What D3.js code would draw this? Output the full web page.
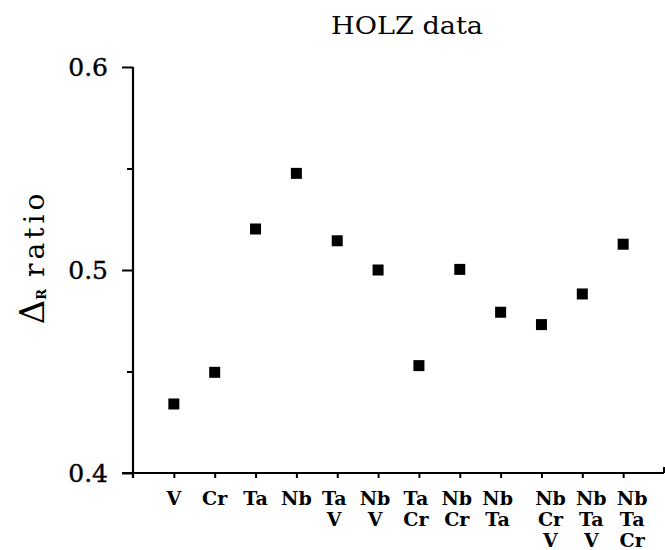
<!DOCTYPE html>
<html><head><meta charset="utf-8">
<script src="https://cdn.jsdelivr.net/npm/d3@7"></script>
<style>body{margin:0;background:#fff}</style>
</head><body>
<script>
const categories = [["V"],["Cr"],["Ta"],["Nb"],["Ta","V"],["Nb","V"],["Ta","Cr"],["Nb","Cr"],["Nb","Ta"],["Nb","Cr","V"],["Nb","Ta","V"],["Nb","Ta","Cr"]];
const ratios = [0.434, 0.4496, 0.5202, 0.5476, 0.5144, 0.500, 0.4529, 0.5003, 0.4792, 0.4731, 0.4882, 0.5127];
const majorTicks = [0.4, 0.5, 0.6];
const minorTicks = [0.45, 0.55];
const yTickLabels = ["0.4", "0.5", "0.6"];
const title = "HOLZ data";

const W = 665, H = 550;
const svg = d3.select("body").append("svg").attr("width", W).attr("height", H);
const x = d3.scaleLinear().domain([0, 13]).range([133, 664]);
const y = d3.scaleLinear().domain([0.4, 0.6]).range([473, 67]);
const ink = "#000";

// Y axis major
const yMaj = svg.append("g").attr("transform", `translate(${x(0)},0)`)
  .call(d3.axisLeft(y).tickValues(majorTicks).tickSize(11).tickSizeOuter(0)
    .tickFormat((d, i) => yTickLabels[i]).tickPadding(14));
yMaj.select(".domain").remove();
yMaj.selectAll("line").attr("stroke", ink).attr("stroke-width", 2);
yMaj.selectAll("text").attr("font-family", "DejaVu Serif").attr("font-size", 25)
  .attr("fill", ink).attr("stroke", ink).attr("stroke-width", 0.4);
// Y minor
const yMin = svg.append("g").attr("transform", `translate(${x(0)},0)`)
  .call(d3.axisLeft(y).tickValues(minorTicks).tickSize(6).tickFormat(""));
yMin.select(".domain").remove();
yMin.selectAll("line").attr("stroke", ink).attr("stroke-width", 2);
// Y axis line
svg.append("line").attr("x1", x(0)).attr("x2", x(0)).attr("y1", y(0.6)).attr("y2", y(0.4) + 5)
  .attr("stroke", ink).attr("stroke-width", 2.2);

// X axis
const xAx = svg.append("g").attr("transform", `translate(0,${y(0.4)})`)
  .call(d3.axisBottom(x).tickValues(d3.range(1, 13)).tickSize(5).tickSizeOuter(0).tickFormat(""));
xAx.select(".domain").attr("stroke", ink).attr("stroke-width", 2).attr("d", `M${x(0) - 11},0H${x(13)}`);
xAx.selectAll("line").attr("stroke", ink).attr("stroke-width", 2);
svg.append("line").attr("x1", x(13)).attr("x2", x(13)).attr("y1", y(0.4)).attr("y2", y(0.4) - 6)
  .attr("stroke", ink).attr("stroke-width", 2);

// X labels
const lab = svg.append("g").attr("font-family", "DejaVu Serif").attr("font-weight", "bold")
  .attr("font-size", 19).attr("fill", ink).attr("text-anchor", "middle");
categories.forEach((rows, i) => {
  const shift = rows.length === 3 ? 9 : (rows.length === 2 ? -3 : 0);
  const t = lab.append("text").attr("x", x(i + 1) + shift).attr("y", 505);
  rows.forEach((r, j) => t.append("tspan").attr("x", x(i + 1) + shift).attr("y", 505 + j * 21).text(r));
});

// Points
const s = 11;
svg.append("g").selectAll("rect").data(ratios).join("rect")
  .attr("x", (d, i) => x(i + 1) - s / 2).attr("y", d => y(d) - s / 2)
  .attr("width", s).attr("height", s).attr("fill", ink);

// Title
svg.append("text").attr("x", 331).attr("y", 34)
  .attr("font-family", "DejaVu Serif").attr("font-size", 25)
  .attr("textLength", 152).attr("lengthAdjust", "spacingAndGlyphs")
  .attr("fill", ink).text(title);

// Y title
const yt = svg.append("text").attr("transform", "translate(44,257) rotate(-90)")
  .attr("text-anchor", "middle").attr("font-family", "DejaVu Serif")
  .attr("font-size", 28).attr("fill", ink);
yt.append("tspan").attr("font-size", 34).text("Δ");
yt.append("tspan").attr("font-size", 13).attr("font-weight", "bold").attr("dy", 2).text("R");
yt.append("tspan").attr("dy", -2).attr("dx", 12).attr("letter-spacing", 4).text("ratio");
</script>
</body></html>
